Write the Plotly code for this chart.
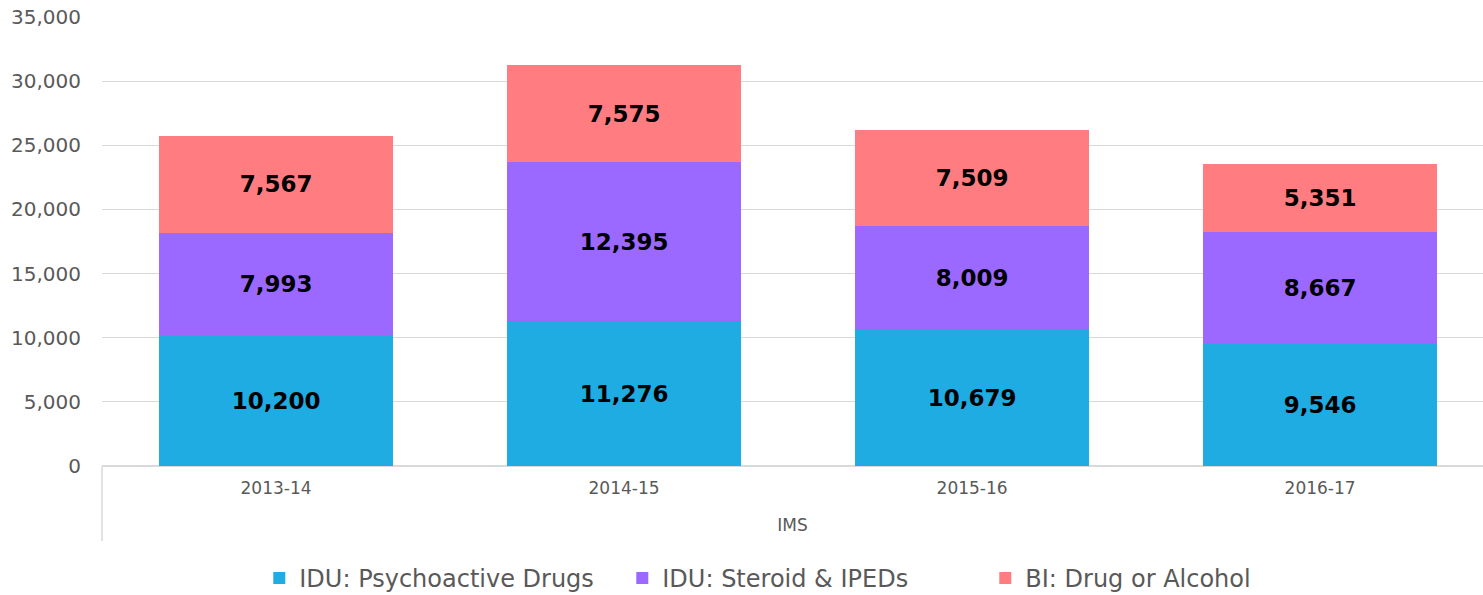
import plotly.graph_objects as go

categories = ["2013-14", "2014-15", "2015-16", "2016-17"]
psychoactive = [10200, 11276, 10679, 9546]
steroid = [7993, 12395, 8009, 8667]
bi_drug_alcohol = [7567, 7575, 7509, 5351]
y_ticks = [0, 5000, 10000, 15000, 20000, 25000, 30000, 35000]
axis_title = "IMS"

series = [
    ("IDU: Psychoactive Drugs", psychoactive, "#1FACE3"),
    ("IDU: Steroid & IPEDs", steroid, "#9B69FF"),
    ("BI: Drug or Alcohol", bi_drug_alcohol, "#FF7C80"),
]

FONT = "DejaVu Sans"
fig = go.Figure()
for name, vals, col in series:
    fig.add_trace(go.Bar(
        x=categories, y=vals, name=name,
        marker=dict(color=col, line=dict(width=0)),
        text=[f"{v:,}" for v in vals],
        textposition="inside", insidetextanchor="middle",
        textfont=dict(family=FONT, size=23, color="black", weight="bold"),
        constraintext="none",
        width=0.672,
    ))

fig.update_layout(
    barmode="stack",
    width=1483, height=595,
    margin=dict(l=102, r=0, t=17, b=129),
    plot_bgcolor="white", paper_bgcolor="white",
    font=dict(family=FONT, color="#595959"),
    showlegend=True,
    legend=dict(orientation="h", xref="container", yref="container",
                x=0.542, xanchor="center", y=0.028, yanchor="middle",
                font=dict(size=24, color="#595959", family=FONT),
                traceorder="normal", itemwidth=30,
                entrywidth=318, entrywidthmode="pixels"),
    xaxis=dict(range=[-0.5, 3.468], showgrid=False,
               tickfont=dict(size=17, color="#595959"),
               ticks="", ticklabelstandoff=10,
               title=dict(text=axis_title, font=dict(size=17, color="#595959"), standoff=22),
               showline=False, zeroline=False),
    yaxis=dict(range=[0, 35000], tickvals=y_ticks, tickformat=",",
               showgrid=True, gridcolor="#D9D9D9", gridwidth=1,
               tickfont=dict(size=20, color="#595959"),
               ticklabelstandoff=20, zeroline=True, zerolinecolor="#D9D9D9",
               zerolinewidth=1.5, showline=False),
)

# left vertical divider under category axis
fig.add_shape(type="line", xref="paper", yref="paper", x0=0, x1=0, y0=0, y1=-0.167,
              line=dict(color="#D9D9D9", width=1.5))

fig.write_html("out.html", config={"displayModeBar": False},
               post_script="document.body.style.margin='0';document.body.style.overflow='hidden';")
